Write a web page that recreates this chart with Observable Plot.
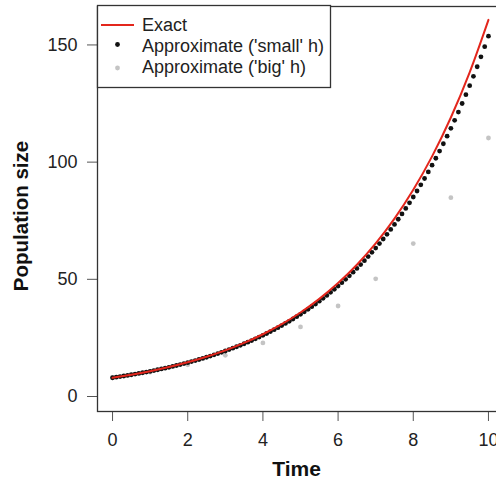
<!DOCTYPE html>
<html>
<head>
<meta charset="utf-8">
<script src="https://cdn.jsdelivr.net/npm/d3@7"></script>
<script src="https://cdn.jsdelivr.net/npm/@observablehq/plot@0.6"></script>
<style>
  html, body { margin: 0; padding: 0; background: white; }
  #wrap { position: relative; width: 496px; height: 487px; overflow: hidden; background: white; }
  #legend { position: absolute; left: 0; top: 0; pointer-events: none; }
</style>
</head>
<body>
<div id="wrap"></div>
<script>
// Exact solution, sampled every 0.5 time units
const exactTime = [0,0.5,1,1.5,2,2.5,3,3.5,4,4.5,5,5.5,6,6.5,7,7.5,8,8.5,9,9.5,10];
const exactPop = [8,9.295,10.799,12.547,14.577,16.936,19.677,22.861,26.561,30.859,35.854,
  41.656,48.397,56.230,65.329,75.902,88.185,102.457,119.038,138.302,160.684];

// Approximation with 'small' h (step 0.1)
const smallStep = 0.1;
const smallPop = [8,8.24,8.487,8.742,9.004,9.274,9.552,9.839,10.134,10.438,
  10.751,11.074,11.406,11.748,12.101,12.464,12.838,13.223,13.619,14.028,
  14.449,14.882,15.329,15.789,16.262,16.750,17.253,17.770,18.303,18.853,
  19.418,20.001,20.601,21.219,21.855,22.511,23.186,23.882,24.598,25.336,
  26.096,26.879,27.686,28.516,29.372,30.253,31.160,32.095,33.058,34.050,
  35.071,36.123,37.207,38.323,39.473,40.657,41.877,43.133,44.427,45.760,
  47.133,48.547,50.003,51.503,53.048,54.640,56.279,57.967,59.706,61.498,
  63.343,65.243,67.200,69.216,71.293,73.431,75.634,77.903,80.240,82.648,
  85.127,87.681,90.311,93.021,95.811,98.686,101.646,104.696,107.837,111.072,
  114.404,117.836,121.371,125.012,128.762,132.625,136.604,140.702,144.923,149.271,
  153.749];

// Approximation with 'big' h (step 1)
const bigTime = [0,1,2,3,4,5,6,7,8,9,10];
const bigPop = [8,10.4,13.52,17.576,22.849,29.703,38.614,50.198,65.257,84.834,110.284];

const xTicks = [0,2,4,6,8,10];
const yTicks = [0,50,100,150];
const legendLabels = ["Exact", "Approximate ('small' h)", "Approximate ('big' h)"];

const exactData = exactTime.map((t, i) => ({t, n: exactPop[i]}));
const smallData = smallPop.map((n, i) => ({t: +(i * smallStep).toFixed(1), n}));
const bigData = bigTime.map((t, i) => ({t, n: bigPop[i]}));

const RED = "#e3261c";
const FONT = "'Liberation Sans', Arial, Helvetica, sans-serif";

const chart = Plot.plot({
  width: 496,
  height: 487,
  marginLeft: 97,
  marginRight: -7,
  marginTop: 6,
  marginBottom: 76,
  style: {fontFamily: FONT, fontSize: "18px", background: "white", color: "#222", overflow: "hidden"},
  x: {domain: [-0.4, 10.4]},
  y: {domain: [-6.4, 166.4]},
  marks: [
    Plot.axisX(xTicks, {tickSize: 10, tickPadding: 12, label: null, stroke: "#555", fill: "#222", fontSize: 18}),
    Plot.axisY(yTicks, {tickSize: 10, tickPadding: 10, label: null, stroke: "#555", fill: "#222", fontSize: 18}),
    Plot.dot(bigData, {x: "t", y: "n", r: 2.4, fill: "#c4c4c4", stroke: "none"}),
    Plot.dot(smallData, {x: "t", y: "n", r: 2.4, fill: "#111", stroke: "none"}),
    Plot.line(exactData, {x: "t", y: "n", stroke: RED, strokeWidth: 2, curve: "catmull-rom"}),
    Plot.frame({stroke: "#333", strokeWidth: 1.3}),
    Plot.text(["Time"], {frameAnchor: "bottom", dx: -4, dy: 64, fontSize: 21, fontWeight: "bold", fill: "#111"}),
    Plot.text(["Population size"], {frameAnchor: "left", textAnchor: "middle", dx: -76, dy: 7, rotate: -90, fontSize: 20.5, fontWeight: "bold", fill: "#111"})
  ]
});

const wrap = document.getElementById("wrap");
wrap.appendChild(chart);

// Legend overlay (inside plot region, top-left)
const svg = d3.select(wrap).append("svg")
  .attr("id", "legend")
  .attr("width", 496).attr("height", 487)
  .style("font-family", FONT).style("font-size", "18px");
svg.append("rect").attr("x", 97.5).attr("y", 5.5).attr("width", 233).attr("height", 82)
  .attr("fill", "white").attr("stroke", "#333").attr("stroke-width", 1.3);
svg.append("line").attr("x1", 101).attr("x2", 134).attr("y1", 25).attr("y2", 25)
  .attr("stroke", RED).attr("stroke-width", 2);
svg.append("circle").attr("cx", 117.5).attr("cy", 44.5).attr("r", 2.4).attr("fill", "#111");
svg.append("circle").attr("cx", 117.5).attr("cy", 68).attr("r", 2.4).attr("fill", "#c4c4c4");
const rows = [24.5, 45.5, 67];
legendLabels.forEach((s, i) => {
  svg.append("text").attr("x", 142).attr("y", rows[i]).attr("dy", "0.35em")
    .attr("fill", "#222").text(s);
});
</script>
</body>
</html>
